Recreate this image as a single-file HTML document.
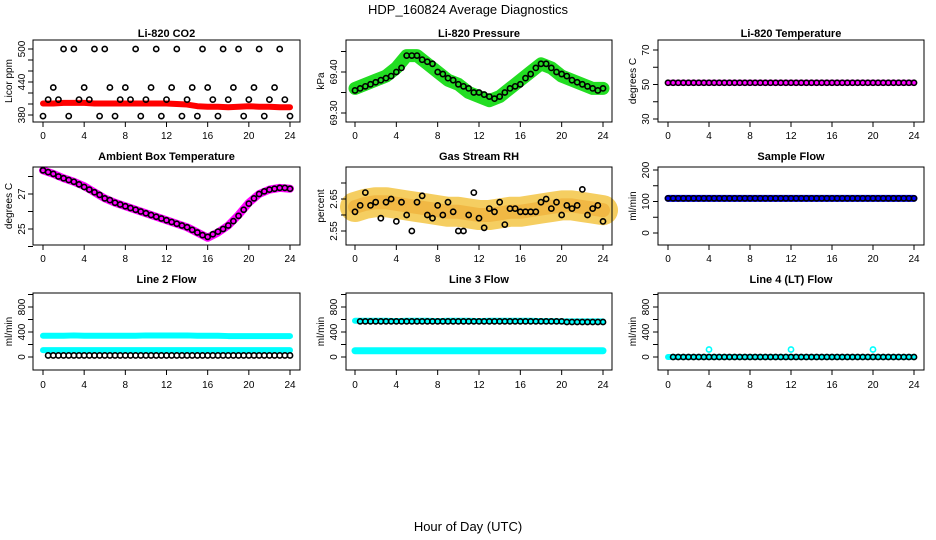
<!DOCTYPE html>
<html><head><meta charset="utf-8"><style>
body{margin:0;background:#fff;}
svg{display:block;font-family:"Liberation Sans",sans-serif;}
</style></head><body>
<svg id="c" width="936" height="540" viewBox="0 0 936 540">
<text x="468" y="14" text-anchor="middle" font-size="13">HDP_160824  Average Diagnostics</text>
<text x="468" y="531" text-anchor="middle" font-size="13">Hour of Day (UTC)</text>
</svg>
<script>
// ---- data ----
const hours = [0,1,2,3,4,5,6,7,8,9,10,11,12,13,14,15,16,17,18,19,20,21,22,23,24];
const xTicks = [0,4,8,12,16,20,24];
const co2Band = [401,401,402,402,402,401,401,401,401,401,401,401,401,400,399,396,395,395,394,395,396,395,395,394,394];
const co2Black = [378,408,430,408,500,378,500,408,430,408,500,378,500,430,378,408,430,408,500,378,408,430,500,378,408,430,500,378,408,430,378,500,430,408,378,500,408,430,500,378,408,430,500,378,408,430,500,408,378];
const presBand = [69.36,69.37,69.38,69.39,69.41,69.44,69.44,69.42,69.40,69.38,69.37,69.35,69.34,69.33,69.34,69.36,69.38,69.40,69.42,69.41,69.39,69.38,69.37,69.36,69.36];
const presBlack = [69.355,69.36,69.365,69.37,69.375,69.38,69.385,69.39,69.40,69.41,69.44,69.44,69.44,69.43,69.425,69.42,69.40,69.395,69.385,69.38,69.37,69.365,69.36,69.35,69.35,69.345,69.34,69.335,69.34,69.35,69.36,69.365,69.37,69.385,69.395,69.41,69.42,69.42,69.41,69.40,69.395,69.39,69.38,69.375,69.37,69.365,69.36,69.355,69.36];
const tempBand = [51,51,51,51,51,51,51,51,51,51,51,51,51,51,51,51,51,51,51,51,51,51,51,51,51];
const tempBlack = [51,51,51,51,51,51,51,51,51,51,51,51,51,51,51,51,51,51,51,51,51,51,51,51,51,51,51,51,51,51,51,51,51,51,51,51,51,51,51,51,51,51,51,51,51,51,51,51,51];
const ambBand = [28.35,28.15,27.9,27.7,27.45,27.1,26.75,26.5,26.3,26.1,25.9,25.7,25.5,25.3,25.1,24.8,24.5,24.8,25.2,25.8,26.5,27.0,27.25,27.35,27.3];
const ambBlack = [28.35,28.25,28.15,28.0,27.9,27.8,27.7,27.55,27.4,27.25,27.1,26.95,26.75,26.65,26.5,26.4,26.3,26.2,26.1,26.0,25.9,25.8,25.7,25.6,25.5,25.4,25.3,25.2,25.1,24.95,24.8,24.65,24.55,24.7,24.85,25.0,25.2,25.45,25.75,26.1,26.45,26.75,27.0,27.15,27.25,27.3,27.35,27.35,27.3];
const rhBand = [2.625,2.635,2.64,2.64,2.635,2.63,2.625,2.62,2.615,2.61,2.61,2.605,2.6,2.6,2.605,2.61,2.61,2.615,2.62,2.625,2.63,2.63,2.625,2.62,2.615];
const rhBlack = [2.61,2.63,2.67,2.63,2.64,2.59,2.64,2.65,2.58,2.64,2.60,2.55,2.64,2.66,2.60,2.59,2.63,2.60,2.64,2.61,2.55,2.55,2.60,2.67,2.59,2.56,2.62,2.61,2.64,2.57,2.62,2.62,2.61,2.61,2.61,2.61,2.64,2.65,2.62,2.64,2.60,2.63,2.62,2.63,2.68,2.60,2.62,2.63,2.58];
const sampBand = [110,110,110,110,110,110,110,110,110,110,110,110,110,110,110,110,110,110,110,110,110,110,110,110,110];
const sampBlack = [110,110,110,110,110,110,110,110,110,110,110,110,110,110,110,110,110,110,110,110,110,110,110,110,110,110,110,110,110,110,110,110,110,110,110,110,110,110,110,110,110,110,110,110,110,110,110,110,110];
const l2BandHi = [340,340,340,345,340,340,340,340,340,340,345,345,345,345,345,340,340,340,335,335,335,335,335,335,335];
const l2BandLo = [110,110,110,110,110,110,110,110,110,110,110,110,110,110,110,110,110,110,110,110,110,110,110,110,110];
const l2Black = [null,25,25,25,25,25,25,25,25,25,25,25,25,25,25,25,25,25,25,25,25,25,25,25,25,25,25,25,25,25,25,25,25,25,25,25,25,25,25,25,25,25,25,25,25,25,25,25,25];
const l3BandHi = [580,580,580,580,575,580,580,580,575,580,580,580,575,580,580,580,580,580,575,575,570,570,570,570,570];
const l3BandLo = [100,100,100,100,100,100,100,100,100,100,100,100,100,100,100,100,100,100,100,100,100,100,100,100,100];
const l3Black = [null,570,570,570,570,570,570,570,570,570,570,570,570,570,570,570,570,570,570,570,570,570,570,570,570,570,570,570,570,570,570,570,570,570,570,570,570,570,570,570,570,560,560,560,560,560,560,560,560];
const l4Band = [0,0,0,0,0,0,0,0,0,0,0,0,0,0,0,0,0,0,0,0,0,0,0,0,0];
const l4Outlier = [120,120,120];
const l4OutlierHours = [4,12,20];
const l4Black = [null,0,0,0,0,0,0,0,0,0,0,0,0,0,0,0,0,0,0,0,0,0,0,0,0,0,0,0,0,0,0,0,0,0,0,0,0,0,0,0,0,0,0,0,0,0,0,0,0];

const svg = document.getElementById('c');
const NS = 'http://www.w3.org/2000/svg';
function mk(tag, attrs, parent){const e=document.createElementNS(NS,tag);for(const k in attrs)e.setAttribute(k,attrs[k]);(parent||svg).appendChild(e);return e;}

const cols=[{bl:33,br:300,x0:43,x24:290,yl:8,tl:22},{bl:346,br:612,x0:355,x24:603,yl:320,tl:334},{bl:658,br:924,x0:668,x24:914,yl:632,tl:646}];
const rows=[{bt:40,bb:122,title:37,lab:139},{bt:167,bb:245,title:160,lab:262},{bt:293,bb:370,title:283,lab:388}];

function panel(ci,ri,name,title,ylab,v1,p1,v2,p2,ticks,labels,draw){
  const c=cols[ci],r=rows[ri];
  const g=mk('g',{});
  
  
  const sx=h=>c.x0+(c.x24-c.x0)*h/24;
  const sy=v=>p1+(p2-p1)*(v-v1)/(v2-v1);
  const t=mk('text',{x:(c.bl+c.br)/2,y:r.title,'text-anchor':'middle','font-size':11,'font-weight':'bold'},g);t.textContent=title;
  
  
  const yt=mk('text',{transform:`translate(${c.yl+4},${(r.bt+r.bb)/2}) rotate(-90)`,'text-anchor':'middle','font-size':10},g);yt.textContent=ylab;
  
  
  const pg=mk('g',{},g);
  draw(pg,sx,sy);
  const box=mk('rect',{x:c.bl,y:r.bt,width:c.br-c.bl,height:r.bb-r.bt,fill:'none',stroke:'#000','stroke-width':1},g);
  
  
  xTicks.forEach(h=>{
    mk('line',{x1:sx(h),x2:sx(h),y1:r.bb,y2:r.bb+5,stroke:'#000'},g);
    const l=mk('text',{x:sx(h),y:r.lab,'text-anchor':'middle','font-size':10},g);l.textContent=h;
    
    
  });
  ticks.forEach(v=>{
    const y=sy(v);
    mk('line',{x1:c.bl,x2:c.bl-5,y1:y,y2:y,stroke:'#000'},g);
  });
  labels.forEach(v=>{
    const l=mk('text',{transform:`translate(${c.tl+3},${sy(v)}) rotate(-90)`,'text-anchor':'middle','font-size':10},g);l.textContent=v;
    
    
  });
}
function band(g,sx,sy,arr,color,w,op){
  const p=mk('polyline',{points:hours.map((h,i)=>sx(h)+','+sy(arr[i])).join(' '),fill:'none',stroke:color,'stroke-width':w,'stroke-linejoin':'round','stroke-linecap':'round','stroke-opacity':op||1},g);
  
  
}
function pts(g,sx,sy,arr,color,step,r){
  arr.forEach((v,i)=>{ if(v===null)return;
    const e=mk('circle',{cx:sx(i*step),cy:sy(v),r:r||2.6,fill:'none',stroke:color,'stroke-width':1.6},g);
    
    
  });
}
panel(0,0,'co2','Li-820 CO2','Licor ppm',380,115,500,49,[380,400,420,440,460,480,500],[380,440,500],(g,sx,sy)=>{
  band(g,sx,sy,co2Band,'#f00',6); pts(g,sx,sy,co2Black,'#000',0.5);
});
panel(1,0,'pressure','Li-820 Pressure','kPa',69.30,113,69.40,72,[69.30,69.35,69.40,69.45],['69.30','69.40'],(g,sx,sy)=>{
  band(g,sx,sy,presBand,'#22dd22',13); pts(g,sx,sy,presBlack,'#000',0.5);
});
panel(2,0,'li820-temp','Li-820 Temperature','degrees C',30,119,70,50,[30,40,50,60,70],[30,50,70],(g,sx,sy)=>{
  band(g,sx,sy,tempBand,'#f0f',6); pts(g,sx,sy,tempBlack,'#000',0.5);
});
panel(0,1,'ambient','Ambient Box Temperature','degrees C',25,229,27,194,[24,25,26,27,28],[25,27],(g,sx,sy)=>{
  band(g,sx,sy,ambBand,'#f0f',8); pts(g,sx,sy,ambBlack,'#000',0.5);
});
panel(1,1,'rh','Gas Stream RH','percent',2.55,231,2.65,199,[2.55,2.60,2.65,2.70],['2.55','2.65'],(g,sx,sy)=>{
  band(g,sx,sy,rhBand,'#f3c23a',30,0.8); band(g,sx,sy,rhBand,'#eeaa30',14,0.6); pts(g,sx,sy,rhBlack,'#000',0.5);
});
panel(2,1,'sample-flow','Sample Flow','ml/min',0,233,200,170,[0,50,100,150,200],[0,100,200],(g,sx,sy)=>{
  band(g,sx,sy,sampBand,'#00f',7); pts(g,sx,sy,sampBlack,'#000',0.5);
});
panel(0,2,'line2-flow','Line 2 Flow','ml/min',0,357,800,307,[0,200,400,600,800,1000],[0,400,800],(g,sx,sy)=>{
  band(g,sx,sy,l2BandHi,'#0ff',6); band(g,sx,sy,l2BandLo,'#0ff',6); pts(g,sx,sy,l2Black,'#000',0.5);
});
panel(1,2,'line3-flow','Line 3 Flow','ml/min',0,357,800,307,[0,200,400,600,800,1000],[0,400,800],(g,sx,sy)=>{
  band(g,sx,sy,l3BandHi,'#0ff',6); band(g,sx,sy,l3BandLo,'#0ff',7); pts(g,sx,sy,l3Black,'#000',0.5);
});
panel(2,2,'line4-flow','Line 4 (LT) Flow','ml/min',0,357,800,307,[0,200,400,600,800,1000],[0,400,800],(g,sx,sy)=>{
  band(g,sx,sy,l4Band,'#0ff',6);
  l4OutlierHours.forEach((h,i)=>{const e=mk('circle',{cx:sx(h),cy:sy(l4Outlier[i]),r:2.6,fill:'none',stroke:'#0ff','stroke-width':1.6},g);
    
    });
  pts(g,sx,sy,l4Black,'#000',0.5);
});
</script>
</body></html>
